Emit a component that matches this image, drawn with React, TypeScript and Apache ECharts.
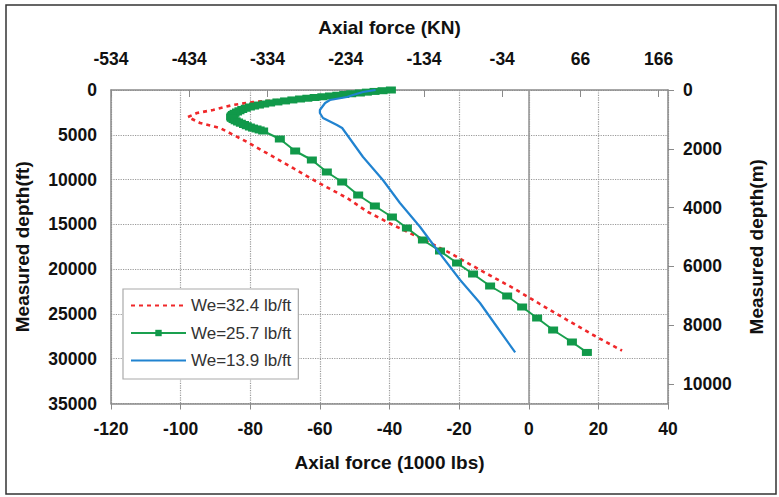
import React, { useEffect, useRef } from "react";
import * as echarts from "echarts";

// Bottom axis: Axial force (1000 lbs); left axis: Measured depth (ft)
const xTicksBottom = [-120, -100, -80, -60, -40, -20, 0, 20, 40];
const xTicksTop = [-534, -434, -334, -234, -134, -34, 66, 166];
const yTicksLeft = [0, 5000, 10000, 15000, 20000, 25000, 30000, 35000];
const yTicksRight = [0, 2000, 4000, 6000, 8000, 10000];

const seriesNames = ["We=32.4 lb/ft", "We=25.7 lb/ft", "We=13.9 lb/ft"];

const redForce = [-40, -50, -57, -63.7, -71.5, -79.2, -85, -90.7, -95.3, -97.9, -94.4, -88.7, -80.9, -74.3, -67.7, -60.8, -52.2, -46.2, -39, -31.2, -22.6, -14, -4.5, 3.2, 11, 18.5, 26.8];
const redDepth = [0, 380, 560, 782, 1116, 1340, 1675, 2233, 2568, 3014, 3684, 4242, 5806, 7257, 8708, 10271, 12058, 13621, 15072, 16523, 18198, 20096, 22105, 23892, 25678, 27353, 29100];

const greenForce = [
  -39.6, -42, -44.3, -46.5, -48.5, -51, -53, -55, -57.1, -59.3, -61.5, -63.6, -65.7, -67.9, -70, -72.2, -74.3, -76, -77.5, -78.9,
  -80.1, -81.3, -82.3, -83.1, -83.8, -84.5, -85, -85.3, -85.5, -85.3, -84.8, -84.2, -83.5, -82.7, -81.8, -81, -80.1, -79.2, -78.2, -77.3,
  -76.3, -71.5, -67.1, -62.3, -58, -53.6, -49, -44.2, -39.3, -35, -30.4, -25.5, -20.6, -16, -11.1, -6.2, -1.9, 2.4, 7, 12.4, 16.7,
];
const greenDepth = [
  0, 80, 160, 240, 335, 420, 500, 585, 670, 755, 840, 920, 1005, 1110, 1220, 1335, 1451, 1565, 1680, 1790,
  1898, 2040, 2180, 2320, 2456, 2600, 2730, 2870, 3014, 3160, 3300, 3440, 3573, 3710, 3850, 3990, 4131, 4250, 4350, 4460,
  4577, 5471, 6810, 7815, 9155, 10271, 11723, 12951, 14179, 15407, 16747, 17975, 19315, 20543, 21882, 22999, 24227, 25455, 26795, 28134, 29300,
];

const blueForce = [-44, -47.6, -50.5, -52.2, -57.1, -58.5, -60, -60, -59.1, -55.1, -53.6, -47.6, -41.9, -37, -31.2, -26.3, -19.7, -14, -9.1, -3.9];
const blueDepth = [0, 223, 558, 782, 1116, 1451, 2233, 2568, 3126, 3908, 4243, 7480, 10048, 12616, 15295, 17863, 21213, 23780, 26460, 29300];

const zip = (xs: number[], ys: number[]) => xs.map((x, i) => [x, ys[i]]);

const FONT = "'Liberation Sans', Arial, sans-serif";
const AXIS_GREY = "#8a8a8a";
const plain = (v: number) => String(Math.round(v));

export default function App() {
  const ref = useRef<HTMLDivElement>(null);

  useEffect(() => {
    document.body.style.margin = "0";
    if (!ref.current) return;
    const chart = echarts.init(ref.current, null, { renderer: "svg" });
    const tickLabel = { fontFamily: FONT, fontWeight: "bold" as const, fontSize: 17.5, color: "#111", formatter: plain };
    const nameStyle = { fontFamily: FONT, fontWeight: "bold" as const, fontSize: 19, color: "#111" };

    chart.setOption({
      animation: false,
      backgroundColor: "#ffffff",
      graphic: [
        {
          type: "rect",
          shape: { x: 6, y: 5, width: 770, height: 489 },
          style: { fill: "none", stroke: "#333", lineWidth: 1.5 },
          silent: true,
          z: 100,
        },
      ],
      grid: { left: 111, right: 111, top: 90, bottom: 93.5, containLabel: false },
      legend: {
        orient: "vertical",
        left: 123,
        top: 289,
        padding: [8, 7, 10, 7],
        itemWidth: 55,
        itemHeight: 8,
        itemGap: 10.5,
        backgroundColor: "#ffffff",
        borderColor: "#aaaaaa",
        borderWidth: 1.2,
        textStyle: { fontFamily: FONT, fontSize: 17, color: "#333" },
        data: [
          { name: seriesNames[0], itemStyle: { opacity: 0 } },
          { name: seriesNames[1] },
          { name: seriesNames[2], itemStyle: { opacity: 0 } },
        ],
      },
      xAxis: [
        {
          type: "value",
          position: "bottom",
          min: -120,
          max: 40,
          interval: 20,
          name: "Axial force (1000 lbs)",
          nameLocation: "middle",
          nameGap: 49,
          nameTextStyle: nameStyle,
          axisLine: { show: true, onZero: false, lineStyle: { color: AXIS_GREY, width: 1.5 } },
          axisTick: { show: true, length: 6, lineStyle: { color: AXIS_GREY } },
          axisLabel: { ...tickLabel, margin: 16, customValues: xTicksBottom },
          splitLine: { show: true, lineStyle: { color: "#9a9a9a", type: "dotted", width: 1.2 } },
        },
        {
          type: "value",
          position: "top",
          min: -534,
          max: 40 * 4.448,
          interval: 100,
          name: "Axial force (KN)",
          nameLocation: "middle",
          nameGap: 53,
          nameTextStyle: nameStyle,
          axisLine: { show: true, onZero: false, lineStyle: { color: AXIS_GREY, width: 1.5 } },
          axisTick: { show: true, inside: true, length: 7, lineStyle: { color: AXIS_GREY }, customValues: xTicksTop },
          axisLabel: { ...tickLabel, margin: 22, customValues: xTicksTop },
          splitLine: { show: false },
        },
      ],
      yAxis: [
        {
          type: "value",
          position: "left",
          inverse: true,
          min: 0,
          max: 35000,
          interval: 5000,
          name: "Measured depth(ft)",
          nameLocation: "middle",
          nameRotate: 90,
          nameGap: 79,
          nameTextStyle: nameStyle,
          axisLine: { show: true, onZero: false, lineStyle: { color: AXIS_GREY, width: 1.5 } },
          axisTick: { show: false },
          axisLabel: { ...tickLabel, margin: 14, customValues: yTicksLeft },
          splitLine: { show: true, lineStyle: { color: "#9a9a9a", type: "dotted", width: 1.2 } },
        },
        {
          type: "value",
          position: "right",
          inverse: true,
          min: 0,
          max: 35000 * 0.3048,
          interval: 2000,
          name: "Measured depth(m)",
          nameLocation: "middle",
          nameRotate: 90,
          nameGap: 79,
          nameTextStyle: nameStyle,
          axisLine: { show: true, onZero: false, lineStyle: { color: AXIS_GREY, width: 1.5 } },
          axisTick: { show: true, length: 6, lineStyle: { color: AXIS_GREY }, customValues: yTicksRight },
          axisLabel: { ...tickLabel, margin: 15, customValues: yTicksRight },
          splitLine: { show: false },
        },
      ],
      series: [
        {
          name: seriesNames[0],
          type: "line",
          xAxisIndex: 0,
          yAxisIndex: 0,
          data: zip(redForce, redDepth),
          showSymbol: false,
          symbol: "none",
          color: "#f0282a",
          lineStyle: { color: "#f0282a", width: 2.6, type: [4, 4] },
          z: 3,
        },
        {
          name: seriesNames[1],
          type: "line",
          xAxisIndex: 0,
          yAxisIndex: 0,
          data: zip(greenForce, greenDepth),
          symbol: "rect",
          symbolSize: [10, 7],
          showAllSymbol: true,
          color: "#11994a",
          itemStyle: { color: "#11994a" },
          lineStyle: { color: "#1aa04f", width: 2 },
          z: 4,
        },
        {
          name: seriesNames[2],
          type: "line",
          xAxisIndex: 0,
          yAxisIndex: 0,
          data: zip(blueForce, blueDepth),
          symbol: "none",
          showSymbol: false,
          color: "#2183d0",
          lineStyle: { color: "#2183d0", width: 2.2 },
          z: 5,
          markLine: {
            silent: true,
            symbol: "none",
            label: { show: false },
            lineStyle: { color: "#999999", type: "solid", width: 1.6 },
            data: [{ xAxis: 0 }],
            z: 2,
          },
        },
      ],
    });
    return () => chart.dispose();
  }, []);

  return <div ref={ref} style={{ width: 779, height: 497 }} />;
}
